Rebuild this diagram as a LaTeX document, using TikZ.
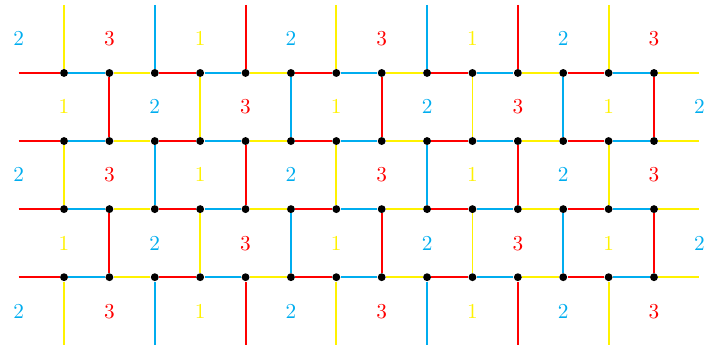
\documentclass[tikz,border=0pt]{standalone}
\usepackage{amsmath,amssymb}
\usepackage{tikz}
\usetikzlibrary{positioning,calc}

\colorlet{c0}{red}
\colorlet{c1}{cyan}
\colorlet{c2}{yellow}
\colorlet{f1}{yellow}
\colorlet{f2}{cyan}
\colorlet{f3}{red}

\tikzset{
  dot/.style={circle, fill=black, inner sep=0pt, minimum size=3.7pt},
  edge/.style={line width=0.9pt},
}

\begin{document}
\begin{tikzpicture}
\useasboundingbox (-0.308,0.081) rectangle (11.409,-5.686);

% Vertices
\foreach \r in {1,...,4}
  \foreach \i in {1,...,14}
    \node[dot] (p\r-\i) at (0.75*\i,-1.125*\r) {};

% Loose ends
\foreach \r in {1,...,4} {
  \coordinate (p\r-0) at (0,-1.125*\r);
  \coordinate (p\r-15) at (11.25,-1.125*\r);
}
\foreach \i in {1,...,14} {
  \coordinate (p0-\i) at (0.75*\i,0);
  \coordinate (p5-\i) at (0.75*\i,-5.625);
}

% Horizontal edges
\foreach \r in {1,...,4}
  \foreach \i in {1,...,15} {
    \pgfmathtruncatemacro{\j}{\i-1}
    \pgfmathtruncatemacro{\k}{mod(\i-1,3)}
    \draw[edge, c\k] (p\r-\j) -- (p\r-\i);
  }

% Vertical edges
\foreach \r in {1,...,5}
  \foreach \i in {1,...,14} {
    \pgfmathtruncatemacro{\q}{\r-1}
    \pgfmathtruncatemacro{\k}{mod(\i+1,3)}
    \ifodd\numexpr\i+\r\relax\else
      \draw[edge, c\k] (p\q-\i) -- (p\r-\i);
    \fi
  }

% Face labels
\foreach \r in {0,...,4}
  \foreach \i in {0,...,15} {
    \pgfmathtruncatemacro{\v}{3-mod(\i+1,3)}
    \ifodd\numexpr\i+\r\relax\else
      \node[f\v] (n\r-\i) at (0.75*\i,-1.125*\r-0.5625) {$\v$};
    \fi
  }
\end{tikzpicture}
\end{document}
